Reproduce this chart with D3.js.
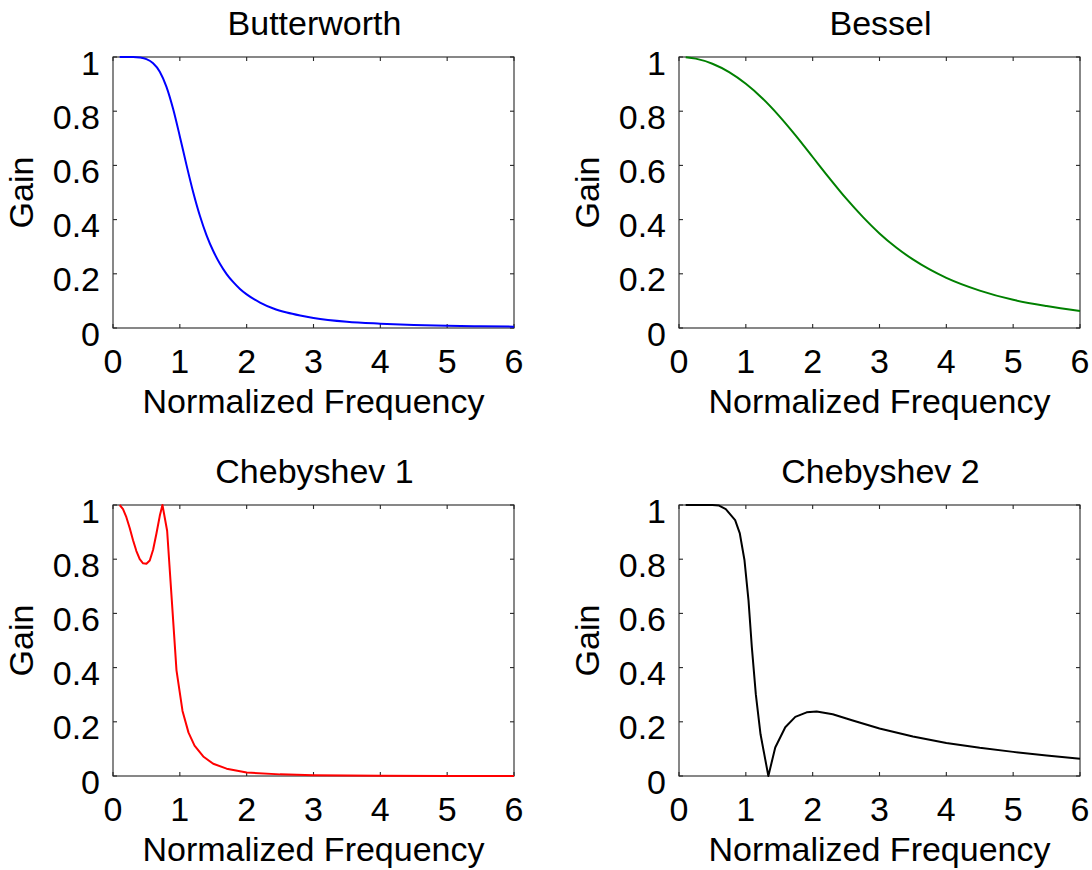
<!DOCTYPE html>
<html>
<head>
<meta charset="utf-8">
<script src="https://cdn.jsdelivr.net/npm/d3@7"></script>
<style>
  html, body { margin: 0; padding: 0; background: #fff; }
  svg { display: block; }
  text { font-family: "Liberation Sans", Arial, Helvetica, sans-serif; fill: #000; }
</style>
</head>
<body>
<svg id="chart" width="1092" height="870"></svg>
<script>
// ---- data ----
const titles = ["Butterworth", "Bessel", "Chebyshev 1", "Chebyshev 2"];
const colors = ["#0000ff", "#008000", "#ff0000", "#000000"];
const xTicks = [0, 1, 2, 3, 4, 5, 6];
const yTicks = [0, 0.2, 0.4, 0.6, 0.8, 1];
const yTickLabels = ["0", "0.2", "0.4", "0.6", "0.8", "1"];
const xLabel = "Normalized Frequency";
const yLabel = "Gain";

const butterX = [0.1,0.2,0.3,0.4,0.5,0.6,0.7,0.8,0.9,1.0,1.1,1.2,1.3,1.4,1.5,1.6,1.7,1.8,1.9,2.0,2.2,2.4,2.6,2.8,3.0,3.5,4.0,4.5,5.0,5.5,6.0];
const butterY = [1.0,1.0,1.0,0.998,0.992,0.977,0.946,0.890,0.808,0.707,0.601,0.501,0.414,0.342,0.284,0.237,0.199,0.169,0.144,0.124,0.094,0.072,0.057,0.046,0.037,0.023,0.016,0.011,0.008,0.006,0.005];

const besselX = [0.1,0.25,0.5,0.75,1.0,1.25,1.5,1.75,2.0,2.25,2.5,2.75,3.0,3.25,3.5,3.75,4.0,4.5,5.0,5.5,6.0];
const besselY = [0.999,0.994,0.975,0.944,0.901,0.847,0.782,0.709,0.631,0.553,0.478,0.410,0.349,0.297,0.253,0.216,0.185,0.138,0.104,0.081,0.063];

const cheb1X = [0.1,0.15,0.2,0.25,0.3,0.35,0.4,0.45,0.5,0.55,0.6,0.65,0.7,0.74,0.81,0.88,0.95,1.04,1.13,1.22,1.35,1.5,1.7,2.0,2.5,3.0,4.0,5.0,6.0];
const cheb1Y = [1.0,0.985,0.955,0.915,0.87,0.83,0.80,0.785,0.783,0.795,0.835,0.895,0.96,1.0,0.905,0.648,0.39,0.24,0.16,0.112,0.072,0.045,0.027,0.013,0.006,0.003,0.001,0.0,0.0];

const cheb2X = [0.1,0.5,0.6,0.7,0.84,0.91,0.98,1.04,1.09,1.15,1.22,1.337,1.44,1.59,1.74,1.91,2.06,2.3,2.6,3.0,3.5,4.0,4.5,5.0,5.5,6.0];
const cheb2Y = [1.0,1.0,0.998,0.985,0.944,0.895,0.796,0.648,0.475,0.30,0.154,0.0,0.105,0.18,0.218,0.235,0.238,0.228,0.205,0.175,0.146,0.122,0.104,0.089,0.076,0.064];

const seriesX = [butterX, besselX, cheb1X, cheb2X];
const seriesY = [butterY, besselY, cheb1Y, cheb2Y];

// ---- layout ----
const panelLeft = [113, 679, 113, 679];
const panelTop = [57, 57, 505, 505];
const panelW = 401;
const panelH = 271;

const svg = d3.select("#chart");

titles.forEach((title, i) => {
  const g = svg.append("g").attr("transform", `translate(${panelLeft[i]},${panelTop[i]})`);
  const x = d3.scaleLinear().domain([0, 6]).range([0, panelW]);
  const y = d3.scaleLinear().domain([0, 1]).range([panelH, 0]);

  // box
  g.append("rect").attr("x", 0).attr("y", 0).attr("width", panelW).attr("height", panelH)
    .attr("fill", "none").attr("stroke", "#262626").attr("stroke-width", 1.1);

  // inward ticks on all sides
  const tl = 4;
  g.append("g").selectAll("line.xb").data(xTicks).join("line")
    .attr("x1", d => x(d)).attr("x2", d => x(d)).attr("y1", panelH).attr("y2", panelH - tl)
    .attr("stroke", "#262626").attr("stroke-width", 1.1);
  g.append("g").selectAll("line.xt").data(xTicks).join("line")
    .attr("x1", d => x(d)).attr("x2", d => x(d)).attr("y1", 0).attr("y2", tl)
    .attr("stroke", "#262626").attr("stroke-width", 1.1);
  g.append("g").selectAll("line.yl").data(yTicks).join("line")
    .attr("x1", 0).attr("x2", tl).attr("y1", d => y(d)).attr("y2", d => y(d))
    .attr("stroke", "#262626").attr("stroke-width", 1.1);
  g.append("g").selectAll("line.yr").data(yTicks).join("line")
    .attr("x1", panelW).attr("x2", panelW - tl).attr("y1", d => y(d)).attr("y2", d => y(d))
    .attr("stroke", "#262626").attr("stroke-width", 1.1);

  // tick labels
  g.append("g").selectAll("text").data(xTicks).join("text")
    .attr("x", d => x(d)).attr("y", panelH + 45)
    .attr("text-anchor", "middle").attr("font-size", 34)
    .text(d => d);
  g.append("g").selectAll("text").data(yTicks).join("text")
    .attr("x", -13).attr("y", d => y(d) + 17.5)
    .attr("text-anchor", "end").attr("font-size", 34)
    .text((d, j) => yTickLabels[j]);

  // axis labels & title
  g.append("text").attr("x", panelW / 2).attr("y", panelH + 85)
    .attr("text-anchor", "middle").attr("font-size", 34).text(xLabel);
  g.append("text").attr("transform", `translate(-80,${panelH / 2}) rotate(-90)`)
    .attr("text-anchor", "middle").attr("font-size", 34).text(yLabel);
  g.append("text").attr("x", panelW / 2 + 1).attr("y", -22)
    .attr("text-anchor", "middle").attr("font-size", 34).text(title);

  // curve
  const pts = seriesX[i].map((v, k) => [v, seriesY[i][k]]);
  const smooth = (i < 2) ? d3.curveMonotoneX : d3.curveLinear;
  g.append("path").datum(pts)
    .attr("fill", "none").attr("stroke", colors[i]).attr("stroke-width", 2)
    .attr("stroke-linejoin", "round")
    .attr("d", d3.line().x(d => x(d[0])).y(d => y(d[1])).curve(smooth));
});
</script>
</body>
</html>
